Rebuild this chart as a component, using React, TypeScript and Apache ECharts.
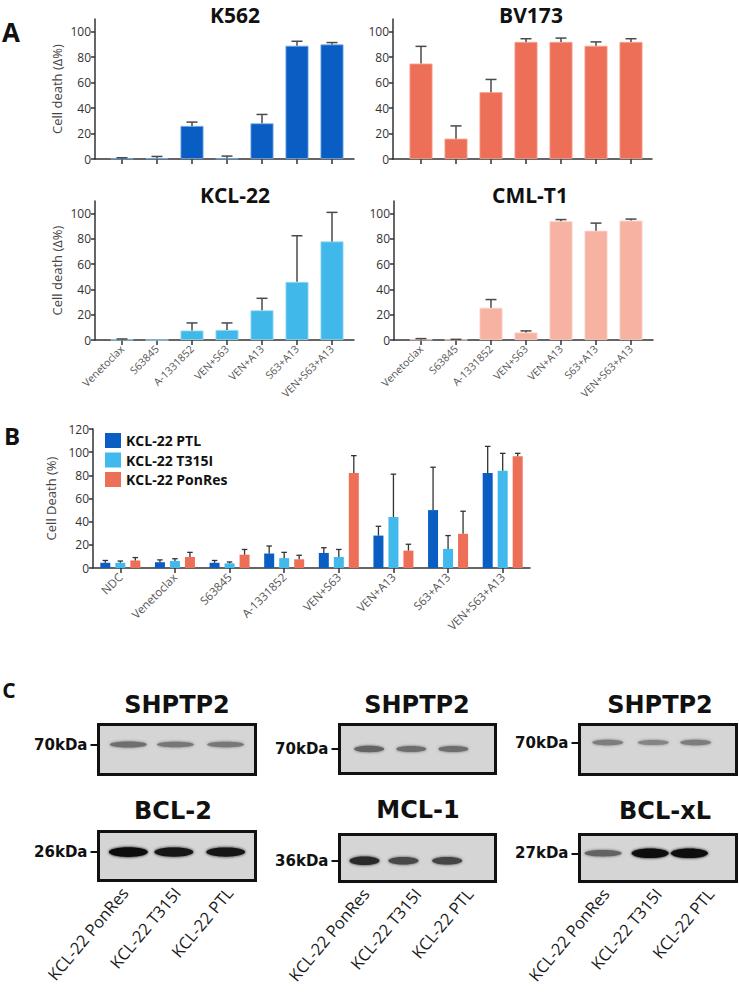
import React, { useEffect, useRef } from 'react';
import * as echarts from 'echarts';

// ---------- Panel A data ----------
const drugs = ['Venetoclax', 'S63845', 'A-1331852', 'VEN+S63', 'VEN+A13', 'S63+A13', 'VEN+S63+A13'];
const k562Mean = [0.3, 0.5, 26, 0.3, 28, 89, 90];
const k562Err = [0.7, 1.5, 3, 2, 7, 3.5, 1.5];
const bv173Mean = [75, 16, 52.5, 92, 92, 89, 92];
const bv173Err = [13.5, 10, 10, 2.5, 3, 3, 2.5];
const kcl22Mean = [0.2, 0, 7.5, 8, 23.5, 46, 78];
const kcl22Err = [0.6, 0, 6, 5.5, 9.5, 36.5, 23];
const cmlt1Mean = [0.3, 0.2, 25.5, 6, 94, 86.5, 94.5];
const cmlt1Err = [0.8, 0.3, 6.5, 1.2, 1.3, 6, 1.2];
const aTicks = [0, 20, 40, 60, 80, 100];

// ---------- Panel B data ----------
const bGroups = ['NDC', 'Venetoclax', 'S63845', 'A-1331852', 'VEN+S63', 'VEN+A13', 'S63+A13', 'VEN+S63+A13'];
const bSeriesNames = ['KCL-22 PTL', 'KCL-22 T315I', 'KCL-22 PonRes'];
const ptlMean = [4.5, 5, 4.5, 12.5, 13, 28, 50, 82];
const ptlErr = [2, 2, 2, 6.5, 4.5, 8, 37, 23];
const t315iMean = [4.5, 6, 4, 8.5, 9.5, 44, 16.5, 84];
const t315iErr = [1.5, 2, 1.2, 5, 6.5, 37, 11.5, 15];
const ponresMean = [6.5, 9.5, 11.5, 7.5, 82, 15, 29.5, 96.5];
const ponresErr = [2.5, 4, 4.5, 3.5, 15, 5.5, 19.5, 2.5];

// ---------- Panel C data (relative band intensities) ----------
const lanes = ['KCL-22 PonRes', 'KCL-22 T315I', 'KCL-22 PTL'];
const shptp2LeftBands = [0.5, 0.45, 0.45];
const bcl2Bands = [1, 0.97, 0.95];
const shptp2MidBands = [0.55, 0.5, 0.5];
const mcl1Bands = [0.85, 0.7, 0.72];
const shptp2RightBands = [0.42, 0.38, 0.42];
const bclxlBands = [0.55, 1, 1];

const FONT = '"Open Sans", sans-serif';
const WIDE = '"DejaVu Sans", sans-serif';

const A_PANELS = [
  { title: 'K562', mean: k562Mean, err: k562Err, color: '#0a5dc2', edge: '#7aaee8' },
  { title: 'BV173', mean: bv173Mean, err: bv173Err, color: '#ee6f57', edge: '#f6a696' },
  { title: 'KCL-22', mean: kcl22Mean, err: kcl22Err, color: '#40b8ea', edge: '#9fdcf6' },
  { title: 'CML-T1', mean: cmlt1Mean, err: cmlt1Err, color: '#f7b2a2', edge: '#fcd8cf' },
];
const A_LAYOUT = [
  { axisLeft: 95, barLeft: 104.5, top: 19, height: 140, tx: 235, ty: 15, yName: true, labels: false },
  { axisLeft: 393, barLeft: 403.5, top: 19, height: 140, tx: 531, ty: 15, yName: false, labels: false },
  { axisLeft: 95, barLeft: 104.5, top: 201, height: 139, tx: 235, ty: 195, yName: true, labels: true },
  { axisLeft: 394, barLeft: 403.5, top: 201, height: 139, tx: 530, ty: 195, yName: false, labels: true },
];

const B_SERIES = [
  { name: bSeriesNames[0], mean: ptlMean, err: ptlErr, color: '#0a5dc2' },
  { name: bSeriesNames[1], mean: t315iMean, err: t315iErr, color: '#41b9ec' },
  { name: bSeriesNames[2], mean: ponresMean, err: ponresErr, color: '#ee6f57' },
];

const C_BLOTS = [
  { title: 'SHPTP2', marker: '70kDa', bands: shptp2LeftBands },
  { title: 'BCL-2', marker: '26kDa', bands: bcl2Bands },
  { title: 'SHPTP2', marker: '70kDa', bands: shptp2MidBands },
  { title: 'MCL-1', marker: '36kDa', bands: mcl1Bands },
  { title: 'SHPTP2', marker: '70kDa', bands: shptp2RightBands },
  { title: 'BCL-xL', marker: '27kDa', bands: bclxlBands },
];
const C_LAYOUT = [
  { box: [98.5, 724.5, 157, 50], bandY: 0.6, laneX: [0.19, 0.49, 0.81], rx: 18.5, tx: 177, ty: 705, labels: false },
  { box: [98.5, 831.5, 157, 49], bandY: 0.58, laneX: [0.19, 0.48, 0.81], rx: 19.5, tx: 173, ty: 811, labels: true },
  { box: [339.5, 724.5, 156, 49], bandY: 0.5, laneX: [0.19, 0.46, 0.73], rx: 15, tx: 417, ty: 705, labels: false },
  { box: [339.5, 834.5, 156, 47], bandY: 0.44, laneX: [0.16, 0.41, 0.69], rx: 15, tx: 418, ty: 810, labels: true },
  { box: [579.5, 724.5, 157, 50], bandY: 0.64, laneX: [0.18, 0.47, 0.74], rx: 15.5, tx: 660, ty: 705, labels: false },
  { box: [579.5, 834.5, 157, 47], bandY: 0.6, laneX: [0.15, 0.45, 0.7], rx: 18.5, tx: 665, ty: 811, labels: true },
];

function errRender(offset: number, capHalf: number, color: string, lw: number) {
  return (params: any, api: any) => {
    const x = api.value(0);
    const v = api.value(1);
    const e = api.value(2);
    if (!(e > 0)) return { type: 'group', children: [] };
    const p0 = api.coord([x, v]);
    const p1 = api.coord([x, v + e]);
    const cx = p0[0] + offset;
    return {
      type: 'group',
      children: [
        { type: 'line', shape: { x1: cx, y1: p0[1], x2: cx, y2: p1[1] }, style: { stroke: color, lineWidth: lw } },
        { type: 'line', shape: { x1: cx - capHalf, y1: p1[1], x2: cx + capHalf, y2: p1[1] }, style: { stroke: color, lineWidth: lw } },
      ],
    };
  };
}

function buildOption() {
  const grid: any[] = [];
  const xAxis: any[] = [];
  const yAxis: any[] = [];
  const series: any[] = [];
  const graphic: any[] = [];

  const axisLine = { show: true, lineStyle: { color: '#333', width: 1.5 } };

  // ----- Panel A -----
  A_PANELS.forEach((p, i) => {
    const L = A_LAYOUT[i];
    const gAxis = grid.length;
    grid.push({ left: L.axisLeft, top: L.top, width: 259, height: L.height });
    const xa = xAxis.length;
    xAxis.push({ type: 'category', gridIndex: gAxis, data: [''], axisLine, axisTick: { show: false }, axisLabel: { show: false } });
    const ya = yAxis.length;
    yAxis.push({
      type: 'value', gridIndex: gAxis, min: 0, max: 110, axisLine,
      splitLine: { show: false },
      axisTick: { show: true, length: 4, customValues: aTicks, lineStyle: { color: '#333', width: 1.5 } },
      axisLabel: { customValues: aTicks, fontSize: 12, color: '#333', margin: 4, fontFamily: FONT },
      name: L.yName ? 'Cell death (\u0394%)' : '',
      nameLocation: 'middle', nameGap: 32,
      nameTextStyle: { fontSize: 13, color: '#444', fontFamily: FONT },
    });
    series.push({ type: 'line', xAxisIndex: xa, yAxisIndex: ya, data: [], silent: true });

    const gBar = grid.length;
    grid.push({ left: L.barLeft, top: L.top, width: 245, height: L.height });
    const xb = xAxis.length;
    xAxis.push({
      type: 'category', gridIndex: gBar, data: drugs,
      axisLine: { show: false },
      axisTick: { show: true, alignWithLabel: true, length: 5, lineStyle: { color: '#333', width: 1.5 } },
      axisLabel: { show: L.labels, rotate: 45, fontSize: 10.5, color: '#555', margin: 7, interval: 0, fontFamily: FONT },
    });
    const yb = yAxis.length;
    yAxis.push({ type: 'value', gridIndex: gBar, min: 0, max: 110, show: false });
    series.push({
      type: 'bar', xAxisIndex: xb, yAxisIndex: yb, data: p.mean, barWidth: 23,
      itemStyle: { color: p.color, borderColor: p.edge, borderWidth: 0.8 },
      z: 2,
    });
    series.push({
      type: 'custom', xAxisIndex: xb, yAxisIndex: yb,
      data: p.mean.map((m, k) => [k, m, p.err[k]]),
      encode: { x: 0, y: 1 },
      renderItem: errRender(0, 5.5, '#4a4a4a', 1.5),
      z: 3,
    });
    graphic.push({
      type: 'text', x: L.tx, y: L.ty,
      style: { text: p.title, font: `bold 21px ${FONT}`, fill: '#111', textAlign: 'center', textVerticalAlign: 'middle' },
    });
  });

  // ----- Panel B -----
  const gB = grid.length;
  grid.push({ left: 93, top: 429, width: 437, height: 139 });
  const xB = xAxis.length;
  xAxis.push({
    type: 'category', gridIndex: gB, data: bGroups, axisLine,
    axisTick: { show: true, alignWithLabel: true, length: 5, lineStyle: { color: '#333', width: 1.5 } },
    axisLabel: { rotate: 45, fontSize: 11.5, color: '#555', margin: 7, interval: 0, fontFamily: FONT },
  });
  const yB = yAxis.length;
  yAxis.push({
    type: 'value', gridIndex: gB, min: 0, max: 120, interval: 20, axisLine,
    splitLine: { show: false },
    axisTick: { show: true, length: 4, lineStyle: { color: '#333', width: 1.5 } },
    axisLabel: { fontSize: 12, color: '#333', margin: 4, fontFamily: FONT },
    name: 'Cell Death (%)', nameLocation: 'middle', nameGap: 32,
    nameTextStyle: { fontSize: 13, color: '#444', fontFamily: FONT },
  });
  B_SERIES.forEach((s) => {
    series.push({
      type: 'bar', name: s.name, xAxisIndex: xB, yAxisIndex: yB, data: s.mean,
      barWidth: 10, barGap: '50%', itemStyle: { color: s.color }, z: 2,
    });
  });
  B_SERIES.forEach((s, k) => {
    series.push({
      type: 'custom', xAxisIndex: xB, yAxisIndex: yB,
      data: s.mean.map((m, j) => [j, m, s.err[j]]),
      encode: { x: 0, y: 1 },
      renderItem: errRender((k - 1) * 15, 2.75, '#333', 1.3),
      z: 3,
    });
  });

  // ----- Panel C -----
  C_BLOTS.forEach((b, i) => {
    const L = C_LAYOUT[i];
    const g = grid.length;
    grid.push({
      left: L.box[0], top: L.box[1], width: L.box[2], height: L.box[3],
      show: true, backgroundColor: '#d5d5d5', borderColor: '#111', borderWidth: 3,
    });
    const xv = xAxis.length;
    xAxis.push({ type: 'value', gridIndex: g, min: 0, max: 1, show: false });
    if (L.labels) {
      xAxis.push({
        type: 'category', gridIndex: g, data: lanes, position: 'bottom',
        axisLine: { show: false }, axisTick: { show: false },
        axisLabel: { rotate: 50, fontSize: 16.5, color: '#1a1a1a', margin: 9, interval: 0, fontFamily: FONT },
      });
    }
    const yv = yAxis.length;
    yAxis.push({
      type: 'value', gridIndex: g, min: 0, max: 1,
      axisLine: { show: false }, splitLine: { show: false },
      axisTick: { show: true, length: 8, customValues: [L.bandY], lineStyle: { color: '#111', width: 2 } },
      axisLabel: {
        customValues: [L.bandY], formatter: () => b.marker, margin: 11,
        fontSize: 15, fontWeight: 'bold', color: '#111', fontFamily: WIDE,
      },
    });
    series.push({
      type: 'custom', xAxisIndex: xv, yAxisIndex: yv,
      data: b.bands.map((v, k) => [L.laneX[k], L.bandY, v]),
      encode: { x: 0, y: 1 },
      renderItem: (params: any, api: any) => {
        const c = api.coord([api.value(0), api.value(1)]);
        const t = api.value(2);
        const lv = Math.round(255 * (0.8 - 0.74 * t));
        const col = `rgb(${lv},${lv},${lv})`;
        return {
          type: 'ellipse',
          shape: { cx: c[0], cy: c[1], rx: L.rx, ry: 1.2 + 3.6 * t },
          style: { fill: col, shadowBlur: 3, shadowColor: col },
        };
      },
    });
    graphic.push({
      type: 'text', x: L.tx, y: L.ty,
      style: { text: b.title, font: `bold 24px ${WIDE}`, fill: '#111', textAlign: 'center', textVerticalAlign: 'middle' },
    });
  });

  graphic.push({ type: 'text', x: 11, y: 32, style: { text: 'A', font: `bold 26px ${FONT}`, fill: '#111', textAlign: 'center', textVerticalAlign: 'middle' } });
  graphic.push({ type: 'text', x: 12, y: 435, style: { text: 'B', font: `bold 24px ${FONT}`, fill: '#111', textAlign: 'center', textVerticalAlign: 'middle' } });
  graphic.push({ type: 'text', x: 9, y: 690, style: { text: 'C', font: `bold 21px ${FONT}`, fill: '#111', textAlign: 'center', textVerticalAlign: 'middle' } });

  return {
    animation: false,
    backgroundColor: '#ffffff',
    textStyle: { fontFamily: FONT },
    legend: {
      data: bSeriesNames, orient: 'vertical', left: 100, top: 428,
      itemWidth: 16, itemHeight: 15, itemGap: 4.5, icon: 'rect',
      textStyle: { fontSize: 14, fontWeight: 'bold', color: '#111', fontFamily: FONT },
      selectedMode: false,
    },
    grid, xAxis, yAxis, series, graphic,
  };
}

export default function App() {
  const ref = useRef<HTMLDivElement>(null);
  useEffect(() => {
    document.body.style.margin = '0';
    if (!ref.current) return;
    const chart = echarts.init(ref.current, undefined, { renderer: 'svg' });
    chart.setOption(buildOption() as any);
    return () => chart.dispose();
  }, []);
  return <div ref={ref} style={{ width: 739, height: 997 }} />;
}
